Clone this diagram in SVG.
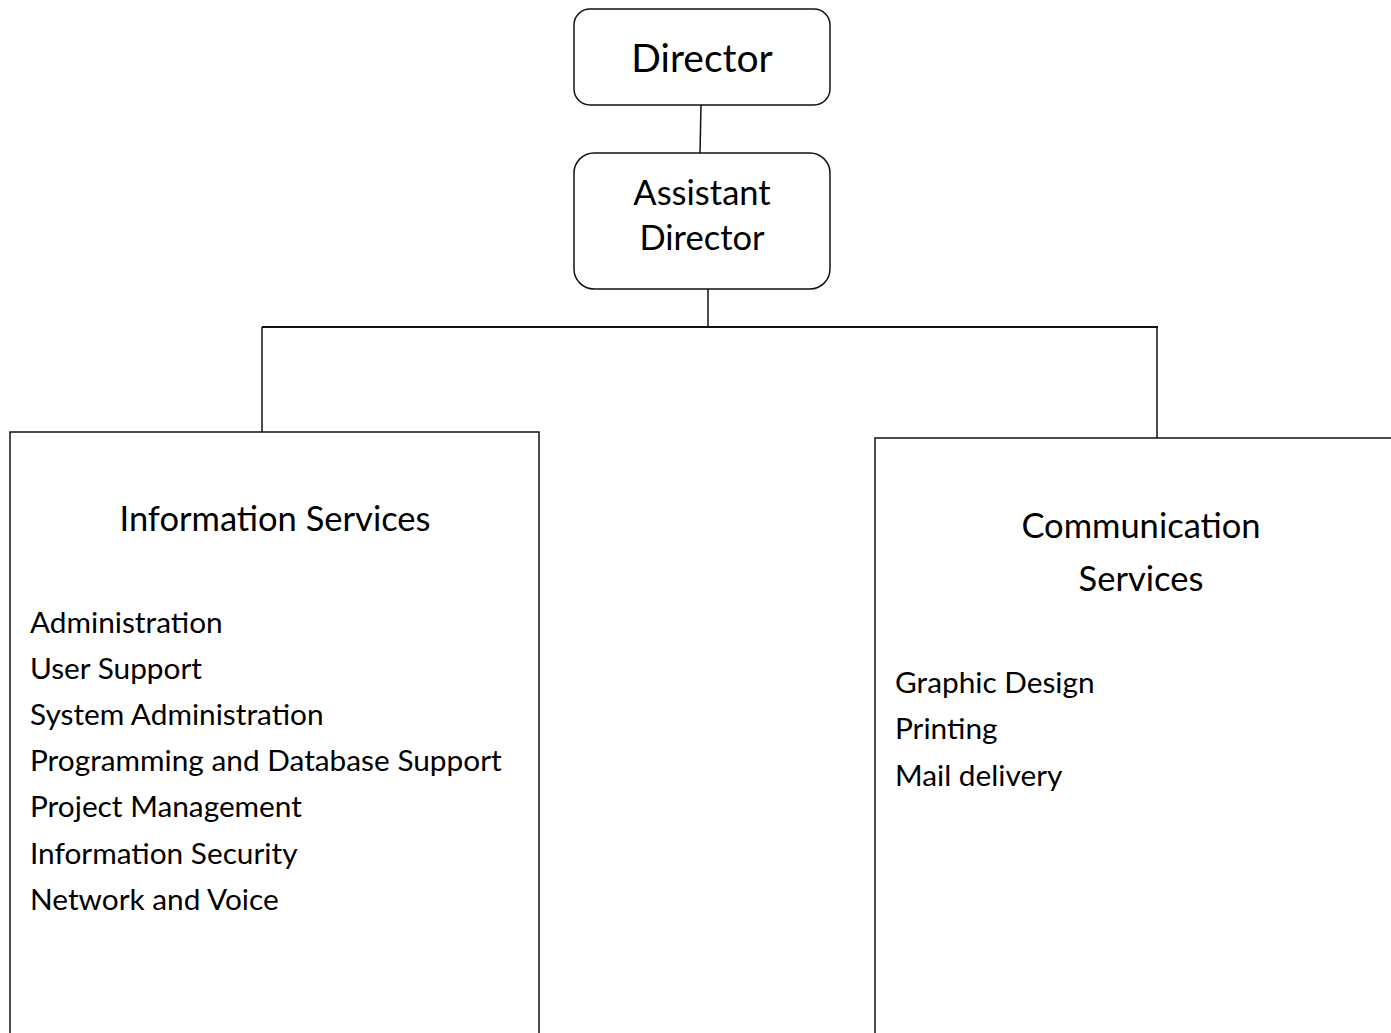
<svg xmlns="http://www.w3.org/2000/svg" width="1391" height="1033" viewBox="0 0 1391 1033">
<style>
text{font-family:Lato,"Liberation Sans",sans-serif;fill:#000}
.box{fill:#fff;stroke:#111;stroke-width:1.5}
.conn{stroke:#111;fill:none}
.t1{font-size:39px}
.t2{font-size:34.5px}
.h{font-size:34.5px}
.it{font-size:29.8px}
</style>
<rect width="1391" height="1033" fill="#fff"/>
<g id="connectors">
<line class="conn" x1="701" y1="105" x2="700" y2="153" stroke-width="1.5"/>
<line class="conn" x1="708" y1="289" x2="708" y2="327" stroke-width="1.5"/>
<line class="conn" x1="262" y1="327" x2="1158" y2="327" stroke-width="2"/>
<line class="conn" x1="262" y1="327" x2="262" y2="438" stroke-width="1.5"/>
<line class="conn" x1="1157" y1="327" x2="1157" y2="438" stroke-width="1.5"/>
</g>
<g id="director">
<rect class="box" x="574" y="9" width="256" height="96" rx="16"/>
<text class="t1" x="702" y="72" text-anchor="middle">Director</text>
</g>
<g id="assistant-director">
<rect class="box" x="574" y="153" width="256" height="136" rx="20"/>
<text class="t2" x="702" y="205" text-anchor="middle">Assistant</text>
<text class="t2" x="702" y="250" text-anchor="middle">Director</text>
</g>
<g id="information-services">
<rect class="box" x="10" y="432" width="529" height="640"/>
<text class="h" x="275" y="531" text-anchor="middle">Information Services</text>
<text class="it" x="30" y="633">Administration</text>
<text class="it" x="30" y="679">User Support</text>
<text class="it" x="30" y="725">System Administration</text>
<text class="it" x="30" y="771">Programming and Database Support</text>
<text class="it" x="30" y="817">Project Management</text>
<text class="it" x="30" y="864">Information Security</text>
<text class="it" x="30" y="910">Network and Voice</text>
</g>
<g id="communication-services">
<rect class="box" x="875" y="438" width="540" height="640"/>
<text class="h" x="1141" y="538" text-anchor="middle">Communication</text>
<text class="h" x="1141" y="591" text-anchor="middle">Services</text>
<text class="it" x="895" y="693">Graphic Design</text>
<text class="it" x="895" y="739">Printing</text>
<text class="it" x="895" y="786">Mail delivery</text>
</g>
</svg>
